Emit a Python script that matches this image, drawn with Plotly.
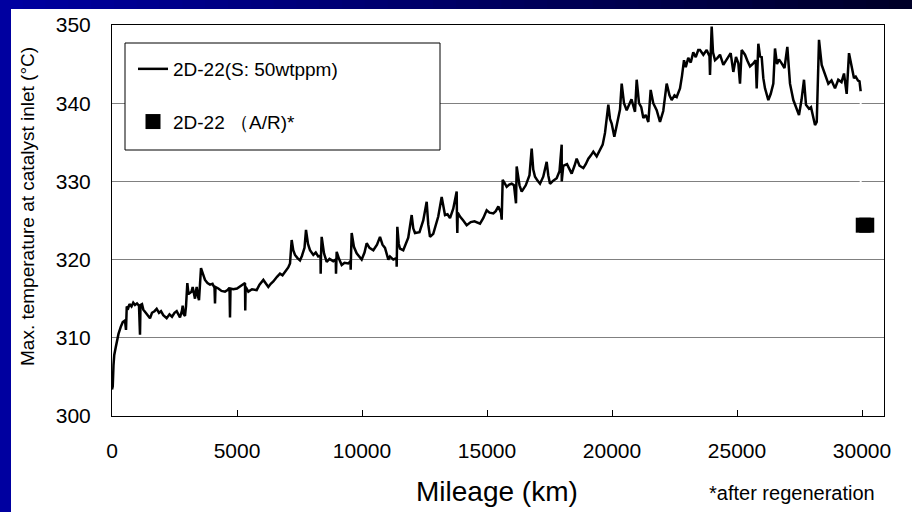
import plotly.graph_objects as go

# Max. catalyst-inlet temperature logged against mileage (S: 50 wtppm fuel)
mileage_km = [
    0, 30, 60, 90, 150, 200, 260, 350, 430, 520, 560, 590, 650, 700, 780, 850, 920, 1000, 1080, 1120,
    1140, 1200, 1253, 1350, 1450, 1520, 1600, 1700, 1787, 1880, 1960, 2050, 2187, 2300, 2400, 2500,
    2587, 2650, 2720, 2800, 2827, 2870, 2920, 2960, 3013, 3060, 3120, 3180, 3227, 3280, 3320, 3360,
    3387, 3440, 3480, 3560, 3640, 3720, 3820, 3920, 4020, 4100, 4120, 4140, 4253, 4380, 4520, 4620,
    4700, 4720, 4740, 4850, 5000, 5120, 5220, 5320, 5330, 5345, 5453, 5600, 5787, 5900, 6053, 6153,
    6253, 6350, 6453, 6600, 6720, 6820, 6920, 7050, 7120, 7187, 7250, 7320, 7420, 7520, 7600, 7700,
    7760, 7840, 7920, 8053, 8150, 8250, 8340, 8347, 8360, 8387, 8480, 8587, 8700, 8850, 8950, 8960,
    8975, 8987, 9080, 9187, 9300, 9450, 9540, 9547, 9560, 9587, 9680, 9787, 9900, 9987, 10100, 10187,
    10300, 10453, 10600, 10720, 10820, 10920, 11053, 11120, 11250, 11380, 11387, 11400, 11413, 11470,
    11520, 11650, 11850, 11987, 12050, 12120, 12300, 12450, 12587, 12650, 12720, 12850, 13050, 13187,
    13260, 13320, 13420, 13520, 13650, 13787, 13800, 13813, 13830, 13920, 14050, 14187, 14350, 14500,
    14720, 14850, 14987, 15100, 15253, 15350, 15453, 15560, 15587, 15600, 15627, 15700, 15787, 15890,
    15987, 16080, 16160, 16187, 16300, 16387, 16550, 16700, 16787, 16850, 16920, 17020, 17120, 17250,
    17387, 17450, 17520, 17650, 17787, 17900, 17987, 17990, 18050, 18200, 18387, 18500, 18587, 18700,
    18853, 18950, 19053, 19150, 19253, 19387, 19500, 19627, 19720, 19853, 19920, 19987, 20093, 20170,
    20253, 20320, 20387, 20480, 20587, 20700, 20780, 20920, 20987, 21080, 21170, 21253, 21350, 21453,
    21547, 21650, 21787, 21920, 22050, 22187, 22300, 22387, 22500, 22587, 22720, 22800, 22880, 22950,
    23050, 23150, 23250, 23350, 23450, 23520, 23653, 23787, 23900, 23920, 23960, 23987, 24040, 24120,
    24220, 24320, 24453, 24587, 24747, 24853, 24960, 25053, 25120, 25187, 25320, 25420, 25520, 25653,
    25750, 25787, 25853, 25920, 25987, 26053, 26120, 26253, 26350, 26453, 26520, 26600, 26680, 26787,
    26900, 27013, 27120, 27253, 27387, 27480, 27580, 27680, 27760, 27880, 27960, 28053, 28120, 28190,
    28227, 28280, 28387, 28520, 28653, 28780, 28920, 29050, 29180, 29280, 29387, 29480, 29587, 29680,
    29750, 29840, 29900, 29947,
]
max_temp_c = [
    303.4, 303.8, 306.5, 307.8, 308.8, 309.6, 310.5, 311.4, 312.0, 312.2, 311.0, 314.0, 313.8, 314.3, 314.0, 314.5, 314.2, 314.4, 314.1, 310.4,
    314.2, 314.3, 313.6, 313.2, 312.8, 312.5, 313.2, 313.4, 313.7, 313.2, 313.4, 312.9, 312.5, 313.0, 312.7, 313.2,
    313.4, 312.9, 312.6, 313.5, 314.1, 313.0, 312.8, 314.0, 317.0, 315.6, 315.7, 315.9, 316.5, 315.5, 315.0, 316.0,
    316.5, 315.3, 314.8, 318.9, 318.0, 317.4, 317.0, 316.8, 316.9, 316.4, 314.4, 316.5, 316.3, 316.0, 315.9, 316.1,
    316.4, 312.6, 316.3, 316.2, 316.3, 316.6, 316.8, 317.0, 313.5, 316.5, 315.9, 316.2, 316.1, 316.8, 317.4, 316.9,
    316.5, 316.9, 317.2, 317.8, 318.2, 318.0, 318.4, 319.0, 319.5, 322.5, 321.2, 320.6, 320.2, 319.9, 320.5, 321.5,
    323.8, 322.0, 321.2, 320.6, 320.9, 320.4, 320.5, 318.2, 320.5, 322.9, 320.8, 319.7, 320.1, 319.8, 320.0, 318.2,
    320.2, 321.0, 320.1, 319.3, 319.6, 319.5, 319.8, 318.7, 320.5, 323.4, 321.6, 320.8, 320.3, 320.0, 320.9, 322.1,
    321.5, 321.2, 321.9, 322.9, 321.9, 321.5, 320.0, 320.4, 320.0, 320.2, 319.1, 321.0, 324.2, 322.0,
    321.4, 321.2, 322.8, 325.7, 324.0, 323.4, 323.5, 325.0, 327.4, 324.5, 322.9, 323.3, 325.5, 328.0,
    326.5, 325.7, 325.8, 325.3, 326.5, 328.7, 325.0, 323.4, 326.0, 325.5, 325.0, 324.4, 324.8, 324.9,
    324.6, 325.3, 326.3, 326.0, 325.9, 326.2, 326.8, 326.0, 325.1, 328.0, 330.2, 329.8, 329.3, 329.6,
    329.7, 329.5, 327.2, 331.9, 329.5, 328.7, 329.5, 330.8, 334.2, 331.5, 330.6, 330.1, 329.7, 330.6,
    332.5, 330.8, 329.7, 330.1, 330.4, 331.3, 334.7, 330.0, 332.0, 332.2, 331.0, 332.0, 332.9, 332.0,
    331.7, 332.2, 332.9, 333.3, 333.8, 333.2, 333.9, 334.7, 336.2, 339.8, 338.0, 337.4, 335.7, 337.0,
    338.3, 339.2, 342.5, 340.0, 339.1, 340.0, 340.5, 338.9, 343.0, 340.0, 339.5, 338.1, 338.5, 337.6,
    341.7, 340.0, 339.1, 337.6, 339.0, 342.5, 341.0, 340.4, 341.0, 340.8, 341.9, 343.5, 345.5, 344.6,
    345.8, 345.2, 346.5, 345.9, 346.8, 346.8, 346.2, 346.8, 346.0, 343.6, 346.5, 349.8, 346.5, 345.5,
    345.8, 346.2, 344.9, 345.6, 346.4, 344.0, 345.9, 345.1, 342.5, 346.8, 346.2, 345.4, 344.7, 345.1,
    345.5, 341.9, 347.6, 346.0, 345.9, 343.2, 341.9, 340.4, 341.2, 342.5, 347.0, 345.0, 345.6, 345.1,
    344.5, 347.2, 342.5, 340.4, 339.1, 338.5, 340.4, 343.0, 339.8, 339.3, 339.5, 338.1, 337.2, 337.6,
    343.8, 348.1, 344.9, 343.6, 342.5, 342.9, 341.9, 343.0, 342.7, 343.8, 341.2, 346.4, 344.7, 343.2,
    343.4, 342.9, 342.8, 341.5,
]

# Value measured after regeneration
ar_mileage_km = [30050, 30190]
ar_temp_c = [324.4, 324.4]

x_ticks = [0, 5000, 10000, 15000, 20000, 25000, 30000]
y_ticks = [300, 310, 320, 330, 340, 350]

FONT = "Arial, Liberation Sans, sans-serif"
W, H = 912, 512
L, R, T, B = 112, 28, 25, 96
PW, PH = W - L - R, H - T - B


def px_x(p):
    return (p - L) / PW


def px_y(p):
    return (H - B - p) / PH


fig = go.Figure()

fig.add_trace(go.Scatter(
    x=mileage_km, y=max_temp_c, mode="lines",
    name="2D-22(S: 50wtppm)", legendgroup="a",
    line=dict(color="black", width=2.5),
))

# thin white connector from the last reading down to the post-regeneration point
fig.add_trace(go.Scatter(
    x=[mileage_km[-1], mileage_km[-1]], y=[max_temp_c[-1], ar_temp_c[0]],
    mode="lines", line=dict(color="white", width=2), showlegend=False, hoverinfo="skip",
))

fig.add_trace(go.Scatter(
    x=ar_mileage_km, y=ar_temp_c, mode="markers",
    name="2D-22 （A/R)*", legendgroup="b",
    marker=dict(symbol="square", size=15, color="black"),
))

shapes = []
# slide frame: blue strip on the left, shaded band across the top
shapes.append(dict(type="rect", xref="paper", yref="paper", layer="below",
                   x0=px_x(0), x1=px_x(11), y0=px_y(512), y1=px_y(0),
                   fillcolor="#0000A0", line=dict(width=0)))
n_seg = 40
for i in range(n_seg):
    f = i / (n_seg - 1)
    b = int(round(160 - f * (160 - 40)))
    shapes.append(dict(type="rect", xref="paper", yref="paper", layer="below",
                       x0=px_x(W * i / n_seg), x1=px_x(W * (i + 1) / n_seg + 1),
                       y0=px_y(9), y1=px_y(0),
                       fillcolor=f"rgb(0,0,{b})", line=dict(width=0)))
# legend frame
shapes.append(dict(type="rect", xref="paper", yref="paper", layer="above",
                   x0=px_x(125), x1=px_x(440), y0=px_y(150), y1=px_y(43),
                   fillcolor="white", line=dict(color="black", width=1)))

annotations = [
    dict(text="Max. temperature at catalyst inlet (°C)", textangle=-90,
         xref="paper", yref="paper", x=px_x(27), y=px_y(207),
         xanchor="center", yanchor="middle", showarrow=False,
         font=dict(family=FONT, size=19, color="black")),
    dict(text="Mileage (km)", xref="paper", yref="paper",
         x=px_x(497), y=px_y(491), xanchor="center", yanchor="middle",
         showarrow=False, font=dict(family=FONT, size=28, color="black")),
    dict(text="*after regeneration", xref="paper", yref="paper",
         x=px_x(792), y=px_y(493), xanchor="center", yanchor="middle",
         showarrow=False, font=dict(family=FONT, size=20, color="black")),
]

fig.update_layout(
    width=W, height=H,
    margin=dict(l=L, r=R, t=T, b=B, pad=0),
    paper_bgcolor="white", plot_bgcolor="white",
    font=dict(family=FONT, color="black"),
    shapes=shapes, annotations=annotations,
    showlegend=True,
    legend=dict(
        x=px_x(133), y=px_y(50), xanchor="left", yanchor="top",
        bgcolor="rgba(0,0,0,0)", borderwidth=0,
        font=dict(family=FONT, size=19, color="black"),
        traceorder="grouped", tracegroupgap=25,
    ),
    xaxis=dict(
        range=[0, 30880], tickvals=x_ticks, ticktext=[str(v) for v in x_ticks],
        showgrid=False, zeroline=False,
        showline=True, linecolor="black", linewidth=1, mirror=True,
        ticks="inside", ticklen=6, tickcolor="black", tickwidth=1,
        tickfont=dict(family=FONT, size=21, color="black"),
        ticklabelstandoff=16,
    ),
    yaxis=dict(
        range=[300, 350], tickvals=y_ticks, ticktext=[str(v) for v in y_ticks],
        showgrid=True, gridcolor="#808080", gridwidth=1, zeroline=False,
        showline=True, linecolor="black", linewidth=1, mirror=True,
        ticks="", tickfont=dict(family=FONT, size=21, color="black"),
        ticklabelstandoff=16,
    ),
)

fig.write_html("out.html")
